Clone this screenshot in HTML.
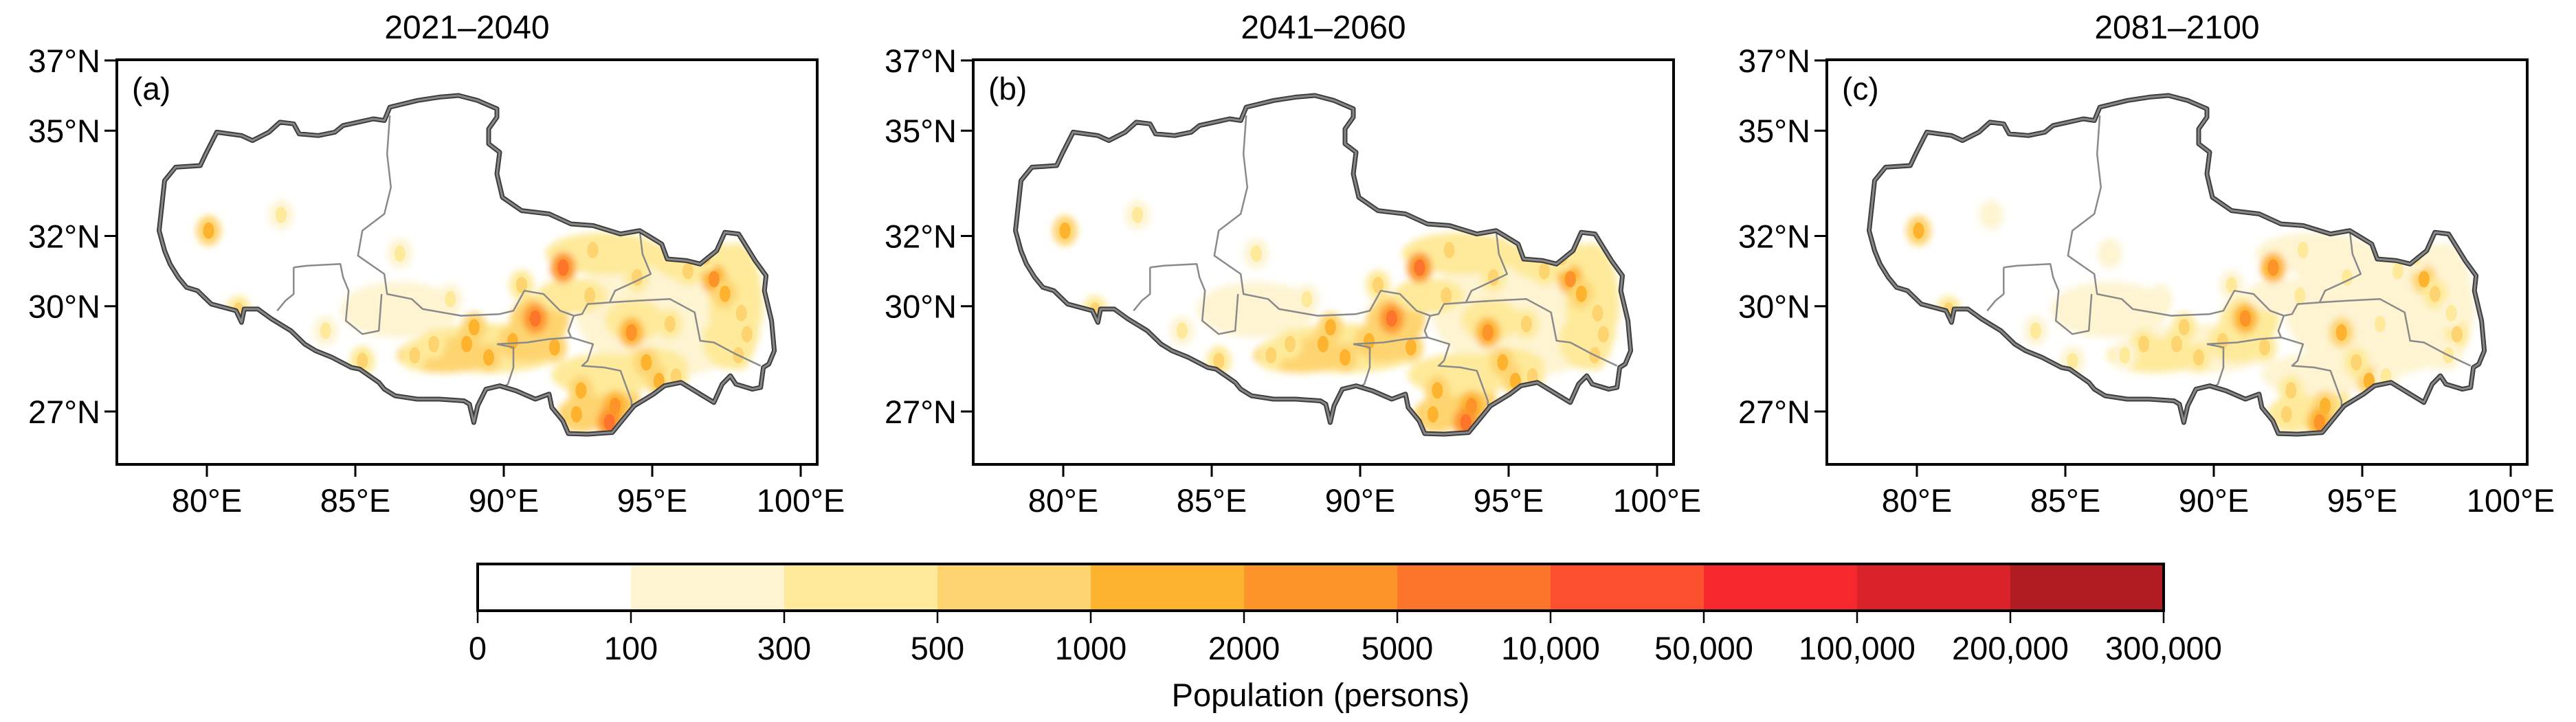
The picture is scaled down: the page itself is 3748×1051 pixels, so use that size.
<!DOCTYPE html>
<html><head><meta charset="utf-8">
<style>
html,body{margin:0;padding:0;background:#fff;}
svg{display:block;font-family:"Liberation Sans",Arial,sans-serif;}
</style></head>
<body>
<svg id="fig" width="3748" height="1051" viewBox="0 0 3748 1051" xmlns="http://www.w3.org/2000/svg">
<defs>
<filter id="soft" x="-20%" y="-20%" width="140%" height="140%"><feGaussianBlur stdDeviation="5"/></filter>
</defs>
<g id="panels"></g>
<g id="cbar"></g>
</svg>
<script>
// ---------- data ----------
const panelTitles = ["2021\u20132040","2041\u20132060","2081\u20132100"];
const panelLetters = ["(a)","(b)","(c)"];
const lonTicks = [80,85,90,95,100];
const latTicks = [27,30,32,35,37];
const cbarLabels = ["0","100","300","500","1000","2000","5000","10,000","50,000","100,000","200,000","300,000"];
const cbarColors = ["#ffffff","#fef4d2","#feea9a","#fed470","#feb32f","#fd942a","#fd742b","#fc502f","#f7292f","#d92229","#b11c22"];
// broad population areas: lon, lat, radius lon, radius lat
const areaLon = [95.6,93.4,89.5,91.2,93.4,97.8,93.4,86.5,96.5,88.0,92.6,95.0,97.6,90.8,94.4,92.3];
const areaLat = [29.9,31.5,28.8,29.6,27.3,30.2,28.05,29.9,31.3,28.6,26.9,28.3,29.0,29.0,29.6,30.3];
const areaRx  = [3.2,2.0,2.6,1.0,1.2,0.9,1.8,2.0,1.5,1.6,0.8,1.2,0.9,1.0,1.0,1.2];
const areaRy  = [1.9,0.6,0.7,0.7,0.7,1.6,0.6,0.8,0.6,0.5,0.5,0.5,0.8,0.6,0.6,0.5];
const areaLevelA = [1,2,2,3,3,2,2,1,2,3,3,2,2,3,2,2];
const areaLevelB = [1,2,2,3,3,2,2,1,2,3,3,2,2,3,2,2];
const areaLevelC = [1,1,1,2,2,1,1,1,1,2,2,1,1,2,1,1];
// hotspots: lon, lat
const spotLon = [91.06,92.0,97.08,94.3,93.75,93.56,88.75,89.49,91.71,95.23,92.45,97.45,80.06,81.07,95.6,98.19,87.64,85.24,94.49,90.3,92.9,96.2,98.0,89.0,92.6,94.8,96.8,87.0,84.0,82.5,86.5,90.6,93.0,95.8,97.9,88.2];
const spotLat = [29.65,31.1,30.77,29.25,27.16,26.69,28.92,28.54,28.83,27.87,26.92,30.35,32.15,29.87,29.49,29.2,28.92,28.44,30.82,29.0,30.3,31.0,29.8,29.4,27.6,28.4,31.4,28.6,29.3,32.6,31.5,30.6,31.6,28.0,28.6,30.2];
const spotLevelA = [6,6,5,5,5,6,4,4,4,4,4,4,4,3,3,3,3,3,3,4,3,3,3,4,4,4,3,3,2,2,2,3,3,3,3,2];
const spotLevelB = [6,6,5,5,5,6,4,4,4,4,4,4,4,3,3,3,3,3,3,4,3,3,3,4,4,4,3,3,2,2,2,3,3,3,3,2];
const spotLevelC = [5,5,4,4,4,5,3,3,3,4,3,3,4,3,2,3,3,2,2,3,2,2,2,3,3,3,2,2,2,1,1,2,2,2,2,1];
// Tibet boundary digitized (reference grid units, converted to lon/lat)
const boundaryRef = [[290,690],[300,540],[320,500],[365,495],[375,460],[395,395],[440,405],[460,420],[490,395],[510,365],[535,370],[545,400],[580,405],[610,395],[625,375],[680,355],[700,360],[710,320],[760,300],[800,290],[835,285],[870,300],[905,325],[905,350],[890,385],[890,430],[910,455],[905,520],[915,590],[950,630],[1000,640],[1040,670],[1080,675],[1130,700],[1165,690],[1185,710],[1205,730],[1215,775],[1250,780],[1275,790],[1305,750],[1320,695],[1345,700],[1360,740],[1375,780],[1395,825],[1392,870],[1405,960],[1410,1050],[1400,1090],[1390,1100],[1385,1160],[1370,1165],[1340,1150],[1330,1125],[1315,1150],[1300,1205],[1270,1175],[1240,1145],[1210,1155],[1190,1180],[1155,1215],[1130,1265],[1115,1295],[1070,1300],[1035,1298],[1025,1260],[1005,1220],[1000,1180],[975,1195],[940,1170],[910,1155],[885,1165],[870,1215],[863,1265],[855,1210],[845,1200],[800,1195],[760,1195],[720,1185],[700,1165],[690,1145],[655,1105],[640,1100],[605,1070],[575,1050],[555,1030],[530,990],[495,955],[470,925],[445,925],[440,965],[430,930],[385,910],[360,870],[340,860],[325,830],[310,790],[300,750]];
const innerRef = [
 [[710,345],[705,460],[712,560],[700,640],[660,690],[652,765],[700,820],[705,880],[750,895],[770,925],[840,945],[910,940],[935,930],[955,870],[990,880],[1020,930],[1045,945],[1060,940],[1070,910],[1110,905],[1160,900],[1220,895],[1265,935],[1275,1020],[1300,1025],[1340,1060],[1385,1095]],
 [[535,800],[560,795],[620,790],[625,830],[635,870],[630,960],[660,1000],[690,990],[695,880]],
 [[535,800],[535,880],[520,900],[505,930]],
 [[905,1030],[935,1040],[935,1100],[925,1150],[915,1160]],
 [[905,1030],[960,1025],[1000,1015],[1040,1010],[1080,1030],[1070,1080],[1060,1095],[1100,1100],[1130,1110],[1150,1200],[1150,1215]],
 [[1045,945],[1035,990],[1040,1010]],
 [[1165,690],[1170,760],[1185,820],[1160,840],[1120,870],[1110,905]]
];
// ---------- layout ----------
const NS = "http://www.w3.org/2000/svg";
const panelLeft = [170,1416,2658];
const panelW = 1019, panelTop = 87, panelBottom = 676;
const lonMin = 80 - 131/43.2, degX = 43.2;
const lat37y = 88, degY = 51.1;
function refLon(X){return 80 + (X-377)/54.05;}
function refLat(Y){return 37 - (Y-180)/105.2;}
function mk(tag, attrs, parent){const e=document.createElementNS(NS,tag);for(const k in attrs)e.setAttribute(k,attrs[k]);parent.appendChild(e);return e;}
const panelsG = document.getElementById('panels');
const areaLevels=[areaLevelA,areaLevelB,areaLevelC];
const spotLevels=[spotLevelA,spotLevelB,spotLevelC];
panelTitles.forEach((title,p)=>{
  const L = panelLeft[p];
  const xs = lon => L + (lon - lonMin)*degX;
  const ys = lat => lat37y + (37 - lat)*degY;
  const g = mk('g',{},panelsG);
  
  
  const t = mk('text',{x:L+panelW/2,y:56,'font-size':48,'text-anchor':'middle'},g);
  t.textContent=title;
  
  
  const bpts = boundaryRef.map(([X,Y])=>xs(refLon(X)).toFixed(1)+','+ys(refLat(Y)).toFixed(1)).join(' ');
  const cp = mk('clipPath',{id:'clip'+p},g);
  mk('polygon',{points:bpts},cp);
  const heat = mk('g',{'clip-path':'url(#clip'+p+')'},g);
  
  
  const hb = mk('g',{filter:'url(#soft)'},heat);
  areaLon.forEach((lo,i)=>{
    const lv=areaLevels[p][i]; if(lv<=0) return;
    const e=mk('ellipse',{cx:xs(lo),cy:ys(areaLat[i]),rx:areaRx[i]*degX,ry:areaRy[i]*degY,fill:cbarColors[lv]},hb);
    
    
  });
  spotLon.forEach((lo,i)=>{
    const lv=spotLevels[p][i];
    const c=mk('ellipse',{cx:xs(lo),cy:ys(spotLat[i]),rx:18,ry:22,fill:cbarColors[Math.max(1,lv-1)]},hb);
    
    
    const s=mk('ellipse',{cx:xs(lo),cy:ys(spotLat[i]),rx:8,ry:12,fill:cbarColors[lv]},heat);
    
    
  });
  innerRef.forEach(line=>{
    const pl=mk('polyline',{points:line.map(([X,Y])=>xs(refLon(X)).toFixed(1)+','+ys(refLat(Y)).toFixed(1)).join(' '),fill:'none',stroke:'#8a8a8a','stroke-width':2.5,'stroke-linejoin':'round'},g);
    
    
  });
  const ob=mk('polygon',{points:bpts,fill:'none',stroke:'#3c3c3c','stroke-width':7,'stroke-linejoin':'round'},g);
  
  
  mk('polygon',{points:bpts,fill:'none',stroke:'#888','stroke-width':3,'stroke-linejoin':'round'},g);
  const fr=mk('rect',{x:L,y:panelTop,width:panelW,height:panelBottom-panelTop,fill:'none',stroke:'#000','stroke-width':4},g);
  
  
  const lt=mk('text',{x:L+22,y:panelTop+58,'font-size':46},g);
  lt.textContent=panelLetters[p];
  
  
  lonTicks.forEach(v=>{
    const x=xs(v);
    mk('line',{x1:x,x2:x,y1:panelBottom,y2:panelBottom+18,stroke:'#000','stroke-width':3},g);
    const tx=mk('text',{x:x,y:745,'font-size':47,'text-anchor':'middle'},g);
    tx.textContent=v+'\u00b0E';
    
    
  });
  latTicks.forEach(v=>{
    const y=ys(v);
    mk('line',{x1:L-18,x2:L,y1:y,y2:y,stroke:'#000','stroke-width':3},g);
    const ty=mk('text',{x:L-24,y:y+17,'font-size':47,'text-anchor':'end'},g);
    ty.textContent=v+'\u00b0N';
    
    
  });
});
// ---------- colorbar ----------
const cb=document.getElementById('cbar');
const cbX0=695, cbX1=3148, cbY0=821, cbY1=889;
const cbStep=(cbX1-cbX0)/cbarColors.length;
cbarColors.forEach((c,i)=>{
  const r=mk('rect',{x:cbX0+i*cbStep,y:cbY0,width:cbStep+0.5,height:cbY1-cbY0,fill:c},cb);
  
  
});
mk('rect',{x:cbX0,y:cbY0,width:cbX1-cbX0,height:cbY1-cbY0,fill:'none',stroke:'#000','stroke-width':4},cb);
cbarLabels.forEach((lab,i)=>{
  const x=cbX0+i*cbStep;
  mk('line',{x1:x,x2:x,y1:cbY1,y2:cbY1+18,stroke:'#000','stroke-width':2.5},cb);
  const t=mk('text',{x:x,y:960,'font-size':47,'text-anchor':'middle'},cb);
  t.textContent=lab;
  
  
});
const ct=mk('text',{x:(cbX0+cbX1)/2,y:1028,'font-size':47,'text-anchor':'middle'},cb);
ct.textContent='Population (persons)';


</script>
</body></html>
